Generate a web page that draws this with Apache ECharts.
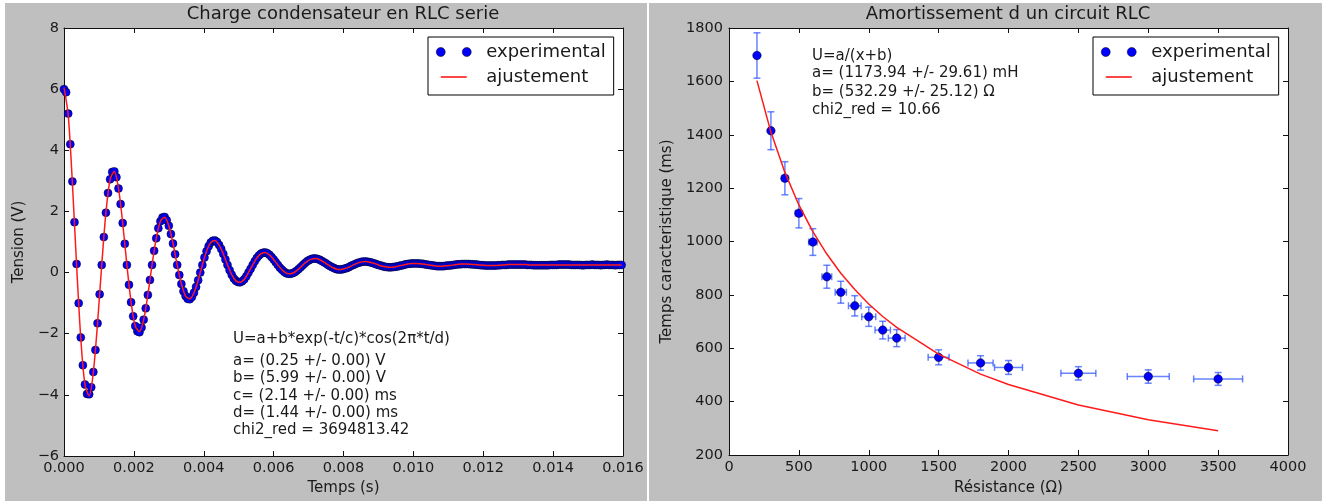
<!DOCTYPE html>
<html>
<head>
<meta charset="utf-8">
<script src="https://cdn.jsdelivr.net/npm/echarts@6/dist/echarts.min.js"></script>
<style>
html,body{margin:0;padding:0;background:#fff;}
#chart{width:1330px;height:501px;}
</style>
</head>
<body>
<div id="chart"></div>
<script>
// ---------- Left panel: damped oscillation (time in microseconds) ----------
const timeUs = [
0,60,120,180,240,300,360,420,480,540,
600,660,720,780,840,900,960,1020,1080,1140,
1200,1260,1320,1380,1440,1500,1560,1620,1680,1740,
1800,1860,1920,1980,2040,2100,2160,2220,2280,2340,
2400,2460,2520,2580,2640,2700,2760,2820,2880,2940,
3000,3060,3120,3180,3240,3300,3360,3420,3480,3540,
3600,3660,3720,3780,3840,3900,3960,4020,4080,4140,
4200,4260,4320,4380,4440,4500,4560,4620,4680,4740,
4800,4860,4920,4980,5040,5100,5160,5220,5280,5340,
5400,5460,5520,5580,5640,5700,5760,5820,5880,5940,
6000,6060,6120,6180,6240,6300,6360,6420,6480,6540,
6600,6660,6720,6780,6840,6900,6960,7020,7080,7140,
7200,7260,7320,7380,7440,7500,7560,7620,7680,7740,
7800,7860,7920,7980,8040,8100,8160,8220,8280,8340,
8400,8460,8520,8580,8640,8700,8760,8820,8880,8940,
9000,9060,9120,9180,9240,9300,9360,9420,9480,9540,
9600,9660,9720,9780,9840,9900,9960,10020,10080,10140,
10200,10260,10320,10380,10440,10500,10560,10620,10680,10740,
10800,10860,10920,10980,11040,11100,11160,11220,11280,11340,
11400,11460,11520,11580,11640,11700,11760,11820,11880,11940,
12000,12060,12120,12180,12240,12300,12360,12420,12480,12540,
12600,12660,12720,12780,12840,12900,12960,13020,13080,13140,
13200,13260,13320,13380,13440,13500,13560,13620,13680,13740,
13800,13860,13920,13980,14040,14100,14160,14220,14280,14340,
14400,14460,14520,14580,14640,14700,14760,14820,14880,14940,
15000,15060,15120,15180,15240,15300,15360,15420,15480,15540,
15600,15660,15720,15780,15840,15900,15960
];

const tensionExp = [
6.00,5.90,5.20,4.20,2.98,1.65,0.28,-1.00,-2.12,-3.03,
-3.66,-3.97,-3.98,-3.75,-3.25,-2.53,-1.66,-0.71,0.25,1.16,
1.96,2.60,3.05,3.29,3.31,3.12,2.75,2.24,1.62,0.94,
0.25,-0.40,-0.97,-1.43,-1.75,-1.92,-1.95,-1.80,-1.54,-1.17,
-0.73,-0.24,0.25,0.71,1.12,1.45,1.68,1.80,1.82,1.71,
1.53,1.26,0.95,0.60,0.25,-0.08,-0.37,-0.61,-0.77,-0.86,
-0.87,-0.80,-0.66,-0.47,-0.25,0.00,0.25,0.49,0.70,0.86,
0.98,1.04,1.05,1.00,0.90,0.77,0.61,0.43,0.25,0.08,
-0.07,-0.19,-0.27,-0.31,-0.32,-0.28,-0.22,-0.12,0.00,0.12,
0.25,0.37,0.48,0.56,0.62,0.65,0.66,0.63,0.58,0.51,
0.43,0.34,0.25,0.16,0.09,0.03,-0.02,-0.04,-0.04,-0.02,
0.01,0.06,0.12,0.18,0.25,0.31,0.37,0.41,0.44,0.46,
0.46,0.44,0.42,0.38,0.34,0.30,0.25,0.21,0.17,0.14,
0.11,0.10,0.10,0.11,0.13,0.15,0.18,0.22,0.25,0.28,
0.31,0.33,0.35,0.36,0.36,0.35,0.34,0.32,0.30,0.27,
0.25,0.23,0.21,0.19,0.18,0.17,0.17,0.18,0.19,0.20,
0.22,0.23,0.25,0.27,0.28,0.29,0.30,0.30,0.30,0.30,
0.29,0.29,0.27,0.26,0.25,0.24,0.23,0.22,0.21,0.21,
0.21,0.21,0.22,0.23,0.23,0.24,0.25,0.26,0.27,0.27,
0.28,0.28,0.28,0.28,0.27,0.27,0.26,0.26,0.25,0.24,
0.24,0.23,0.23,0.23,0.23,0.23,0.23,0.24,0.24,0.25,
0.25,0.25,0.26,0.26,0.26,0.26,0.26,0.26,0.26,0.26,
0.26,0.25,0.25,0.25,0.24,0.24,0.24,0.24,0.24,0.24,
0.24,0.24,0.25,0.25,0.25,0.25,0.26,0.26,0.26,0.26,
0.26,0.26,0.25,0.25,0.25,0.25,0.25,0.24,0.24,0.25,
0.25,0.25,0.26,0.25,0.25,0.25,0.24,0.25,0.25,0.26,
0.25,0.25,0.25,0.24,0.25,0.25,0.25
];

// fitted curve, read at every other sample time
const tensionFit = [
6.05,5.15,2.93,0.25,-2.14,-3.67,-4.03,-3.25,-1.66,0.25,
1.96,3.05,3.31,2.75,1.62,0.25,-0.97,-1.75,-1.93,-1.54,
-0.73,0.25,1.12,1.68,1.81,1.53,0.95,0.25,-0.37,-0.77,
-0.86,-0.66,-0.25,0.25,0.70,0.98,1.05,0.90,0.61,0.25,
-0.07,-0.27,-0.32,-0.22,0.00,0.25,0.48,0.62,0.66,0.58,
0.43,0.25,0.09,-0.02,-0.04,0.01,0.12,0.25,0.37,0.44,
0.46,0.42,0.34,0.25,0.17,0.11,0.10,0.13,0.18,0.25,
0.31,0.35,0.36,0.34,0.30,0.25,0.21,0.18,0.17,0.19,
0.22,0.25,0.28,0.30,0.30,0.29,0.27,0.25,0.23,0.21,
0.21,0.22,0.23,0.25,0.27,0.28,0.28,0.27,0.26,0.25,
0.24,0.23,0.23,0.23,0.24,0.25,0.26,0.26,0.26,0.26,
0.26,0.25,0.25,0.25,0.25,0.25,0.25,0.25,0.25,0.25,
0.25,0.25,0.25,0.25,0.25,0.25,0.25,0.25,0.25,0.25,
0.25,0.25,0.25,0.25
];

// ---------- Right panel: damping time vs resistance ----------
const resistance = [200,300,400,500,600,700,800,900,1000,1100,1200,1500,1800,2000,2500,3000,3500];
const tauExp     = [1697,1415,1237,1106,998,868,810,759,718,668,638,566,545,528,506,494,485];
const tauErr     = [85,71,62,55,50,43,41,38,36,33,32,28,27,26,25,25,24];
const resErr     = [10,15,20,25,30,35,40,45,50,55,60,75,90,100,125,150,175];
const tauFit     = [1603,1410,1259,1137,1037,953,881,820,766,719,678,578,503,464,387,332,291];

const leftTitle  = 'Charge condensateur en RLC serie';
const rightTitle = 'Amortissement d un circuit RLC';
const leftNotes  = ['U=a+b*exp(-t/c)*cos(2\u03c0*t/d)','a= (0.25 +/- 0.00) V','b= (5.99 +/- 0.00) V','c= (2.14 +/- 0.00) ms','d= (1.44 +/- 0.00) ms','chi2_red = 3694813.42'];
const rightNotes = ['U=a/(x+b)','a= (1173.94 +/- 29.61) mH','b= (532.29 +/- 25.12) \u03a9','chi2_red = 10.66'];

// ---------- styling ----------
const FONT = 'DejaVu Sans';
const INK = '#1a1a1a';
const BLUE = '#0000ff';
const RED = '#ff1a1a';

const axisLine = {show:true, onZero:false, lineStyle:{color:'#111', width:1}};
const axisTick = {show:true, inside:true, length:5, lineStyle:{color:'#111', width:1}};
const labelBase = {fontSize:14.5, fontFamily:FONT, color:INK, showMinLabel:true, showMaxLabel:true};
const nameStyle = {fontSize:15, fontFamily:FONT, color:INK};
const minusFmt = v => (v < 0 ? '\u2212' + Math.abs(v) : String(v));
const plainFmt = v => String(v);

function frameAxis(gridIndex, position, min, max, interval) {
  return {type:'value', gridIndex, position, min, max, interval,
    axisLine, axisTick, splitLine:{show:false}, axisLabel:{show:false}};
}

const leftExpData = timeUs.map((t, i) => [t / 1e6, tensionExp[i]]);
const fitTimes = timeUs.filter((_, i) => i % 2 === 0);
const leftFitData = fitTimes.map((t, i) => [t / 1e6, tensionFit[i]]);
const rightExpData = resistance.map((r, i) => [r, tauExp[i]]);
const rightErrData = resistance.map((r, i) => [r, tauExp[i], resErr[i], tauErr[i]]);
const rightFitData = resistance.map((r, i) => [r, tauFit[i]]);

const dotsIcon = 'path://M0,0M45,9M0,4.5A4.5,4.5,0,1,1,9,4.5A4.5,4.5,0,1,1,0,4.5ZM26,4.5A4.5,4.5,0,1,1,35,4.5A4.5,4.5,0,1,1,26,4.5Z';
const lineIcon = 'path://M0,0M45,9M4.5,3.7H30.5V5.3H4.5Z';

function legendAt(left) {
  return {
    left, top:37, orient:'vertical', selectedMode:false,
    itemWidth:45, itemHeight:9, itemGap:7,
    padding:[6, 8, 9, 8],
    borderColor:'#000', borderWidth:1, backgroundColor:'#fff',
    textStyle:{fontSize:18, fontFamily:FONT, color:INK},
    data:[
      {name:'experimental', icon:dotsIcon, itemStyle:{color:BLUE, borderColor:'#000', borderWidth:0.5}},
      {name:'ajustement', icon:lineIcon, itemStyle:{color:RED, borderWidth:0}}
    ]
  };
}

function noteTexts(lines, x, ys) {
  return lines.map((s, i) => ({
    type:'text', x, y:ys[i], z:100, silent:true,
    style:{text:s, fontSize:15, fontFamily:FONT, fill:INK, verticalAlign:'middle', align:'left'}
  }));
}

const chart = echarts.init(document.getElementById('chart'), null, {renderer:'canvas'});
chart.setOption({
  animation:false,
  backgroundColor:'#ffffff',
  title:[
    {text:leftTitle, left:343, top:5, padding:0, textAlign:'center',
     textStyle:{fontSize:18, fontWeight:'normal', fontFamily:FONT, color:INK}},
    {text:rightTitle, left:1008, top:5, padding:0, textAlign:'center',
     textStyle:{fontSize:18, fontWeight:'normal', fontFamily:FONT, color:INK}}
  ],
  legend:[legendAt(428), legendAt(1093)],
  grid:[
    {left:64, top:28, width:559, height:430, show:true, backgroundColor:'#fff', borderWidth:0},
    {left:729, top:28, width:559, height:430, show:true, backgroundColor:'#fff', borderWidth:0}
  ],
  xAxis:[
    {type:'value', gridIndex:0, position:'bottom', min:0, max:0.016, interval:0.002,
     axisLine, axisTick, splitLine:{show:false},
     axisLabel:Object.assign({}, labelBase, {margin:5, formatter:v => v.toFixed(3)}),
     name:'Temps (s)', nameLocation:'middle', nameGap:25, nameTextStyle:nameStyle},
    frameAxis(0, 'top', 0, 0.016, 0.002),
    {type:'value', gridIndex:1, position:'bottom', min:0, max:4000, interval:500,
     axisLine, axisTick, splitLine:{show:false},
     axisLabel:Object.assign({}, labelBase, {margin:5, formatter:plainFmt}),
     name:'R\u00e9sistance (\u03a9)', nameLocation:'middle', nameGap:26, nameTextStyle:nameStyle},
    frameAxis(1, 'top', 0, 4000, 500)
  ],
  yAxis:[
    {type:'value', gridIndex:0, position:'left', min:-6, max:8, interval:2,
     axisLine, axisTick, splitLine:{show:false},
     axisLabel:Object.assign({}, labelBase, {margin:5, formatter:minusFmt}),
     name:'Tension (V)', nameLocation:'middle', nameGap:37, nameRotate:90, nameTextStyle:nameStyle},
    frameAxis(0, 'right', -6, 8, 2),
    {type:'value', gridIndex:1, position:'left', min:200, max:1800, interval:200,
     axisLine, axisTick, splitLine:{show:false},
     axisLabel:Object.assign({}, labelBase, {margin:6, formatter:plainFmt}),
     name:'Temps caracteristique (ms)', nameLocation:'middle', nameGap:54, nameRotate:90, nameTextStyle:nameStyle},
    frameAxis(1, 'right', 200, 1800, 200)
  ],
  graphic:[
    {type:'rect', shape:{x:5, y:3, width:642, height:498}, style:{fill:'#bfbfbf'}, z:-100, silent:true},
    {type:'rect', shape:{x:649, y:3, width:673, height:498}, style:{fill:'#bfbfbf'}, z:-100, silent:true}
  ].concat(noteTexts(leftNotes, 233, [339, 361, 378.5, 396, 413, 430]))
   .concat(noteTexts(rightNotes, 812, [56, 73.5, 92, 110])),
  series:[
    {name:'experimental', type:'scatter', xAxisIndex:0, yAxisIndex:0, data:leftExpData,
     symbol:'circle', symbolSize:8, z:2,
     itemStyle:{color:BLUE, borderColor:'#000', borderWidth:0.5, opacity:1}},
    {name:'ajustement', type:'line', xAxisIndex:0, yAxisIndex:0, data:leftFitData,
     showSymbol:false, smooth:0.3, z:3,
     itemStyle:{color:RED}, lineStyle:{color:RED, width:1.5}},
    {name:'errorbars', type:'custom', xAxisIndex:2, yAxisIndex:2, data:rightErrData,
     encode:{x:0, y:1}, z:1,
     renderItem:function(params, api){
       const x = api.value(0), y = api.value(1), ex = api.value(2), ey = api.value(3);
       const top = api.coord([x, y + ey]), bot = api.coord([x, y - ey]);
       const lft = api.coord([x - ex, y]), rgt = api.coord([x + ex, y]);
       const cap = 3.5;
       const st = {stroke:'rgba(40,80,255,0.7)', lineWidth:1.5, fill:null};
       const seg = (x1,y1,x2,y2) => ({type:'line', shape:{x1,y1,x2,y2}, style:st});
       return {type:'group', children:[
         seg(top[0], top[1], bot[0], bot[1]),
         seg(top[0]-cap, top[1], top[0]+cap, top[1]),
         seg(bot[0]-cap, bot[1], bot[0]+cap, bot[1]),
         seg(lft[0], lft[1], rgt[0], rgt[1]),
         seg(lft[0], lft[1]-cap, lft[0], lft[1]+cap),
         seg(rgt[0], rgt[1]-cap, rgt[0], rgt[1]+cap)
       ]};
     }},
    {name:'experimental', type:'scatter', xAxisIndex:2, yAxisIndex:2, data:rightExpData,
     symbol:'circle', symbolSize:8.5, z:2,
     itemStyle:{color:BLUE, borderColor:'#000', borderWidth:0.5, opacity:1}},
    {name:'ajustement', type:'line', xAxisIndex:2, yAxisIndex:2, data:rightFitData,
     showSymbol:false, smooth:false, z:3,
     itemStyle:{color:RED}, lineStyle:{color:RED, width:1.5}}
  ]
});
</script>
</body>
</html>
